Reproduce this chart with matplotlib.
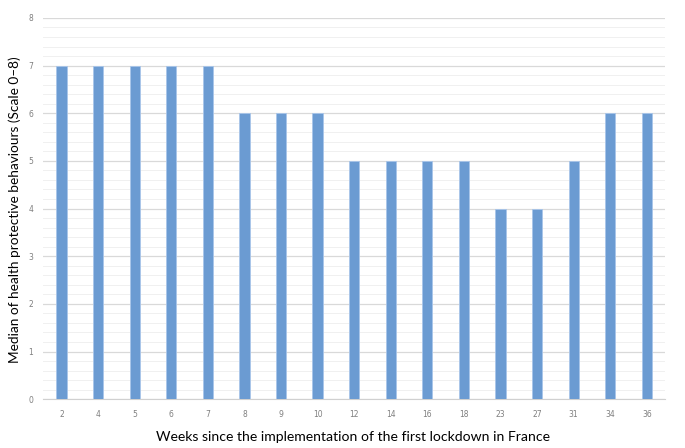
import matplotlib
matplotlib.use('Agg')
import matplotlib.pyplot as plt
from matplotlib.ticker import MultipleLocator

weeks = ['2', '4', '5', '6', '7', '8', '9', '10', '12', '14', '16', '18', '23', '27', '31', '34', '36']
medians = [7, 7, 7, 7, 7, 6, 6, 6, 5, 5, 5, 5, 4, 4, 5, 6, 6]

fig = plt.figure(figsize=(6.85, 4.48), dpi=100)
ax = fig.add_axes([0.063, 0.109, 0.908, 0.851])

x = range(len(weeks))
ax.bar(x, medians, width=0.28, color='#6b9bd2', edgecolor='#a9c6ea', linewidth=0.6, zorder=3)

ax.set_xlim(-0.5, len(weeks) - 0.5)
ax.set_ylim(0, 8)
ax.set_xticks(list(x))
ax.set_xticklabels(weeks)
ax.yaxis.set_major_locator(MultipleLocator(1))
ax.yaxis.set_minor_locator(MultipleLocator(0.2))
ax.grid(axis='y', which='major', color='#d9d9d9', linewidth=0.9, zorder=0)
ax.grid(axis='y', which='minor', color='#f0f0f0', linewidth=0.7, zorder=0)

for s in ['top', 'right', 'left']:
    ax.spines[s].set_visible(False)
ax.spines['bottom'].set_color('#d0d0d0')
ax.tick_params(axis='both', which='both', length=0, labelsize=5.5, labelcolor='#7f7f7f')
ax.tick_params(axis='x', pad=8)
ax.tick_params(axis='y', pad=7)

# axis titles placed on the figure so they do not get clipped
fig.text(0.021, 0.533, 'Median of health protective behaviours (Scale 0\u20138)',
         rotation=90, ha='center', va='center', fontsize=9.8, family='Lato')
fig.text(0.515, 0.025, 'Weeks since the implementation of the first lockdown in France',
         ha='center', va='center', fontsize=10.1, family='Lato')

fig.savefig('out.png', dpi=100)
